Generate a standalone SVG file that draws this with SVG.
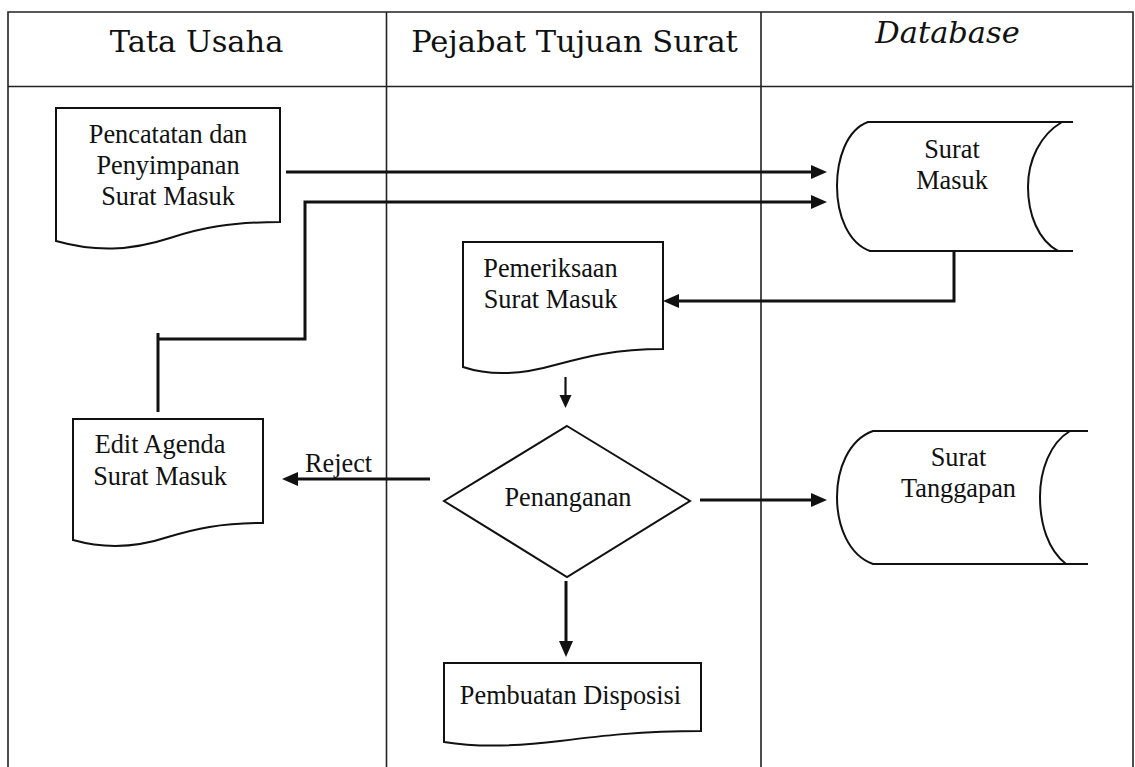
<svg xmlns="http://www.w3.org/2000/svg" width="1135" height="767" viewBox="0 0 1135 767">
<style>
.frame{fill:none;stroke:#222;stroke-width:1.6}
.shape{fill:none;stroke:#111;stroke-width:2}
.conn{fill:none;stroke:#111;stroke-width:3}
.thin{fill:none;stroke:#111;stroke-width:2.2}
.hdr{font-family:"DejaVu Serif",serif;font-size:30.5px;fill:#111;text-anchor:middle}
.txt{font-family:"Liberation Serif","Times New Roman",serif;font-size:26.3px;fill:#111;text-anchor:middle}
</style>
<defs>
<marker id="arr" markerUnits="userSpaceOnUse" markerWidth="16" markerHeight="14" refX="6" refY="7" orient="auto" overflow="visible">
<path d="M0,0 L16,7 L0,14 z" fill="#111"/>
</marker>
<marker id="arrS" markerUnits="userSpaceOnUse" markerWidth="13" markerHeight="12" refX="5" refY="6" orient="auto" overflow="visible">
<path d="M0,0 L13,6 L0,12 z" fill="#111"/>
</marker>
</defs>
<rect width="1135" height="767" fill="#fff"/>
<g id="swimlanes">
<path class="frame" d="M8,767 V12 H1133 V767 M8,86.5 H1133 M386.5,12 V767 M761,12 V767"/>
<text class="hdr" x="196.5" y="52">Tata Usaha</text>
<text class="hdr" x="574.5" y="52">Pejabat Tujuan Surat</text>
<text class="hdr" x="947.5" y="43" font-style="italic">Database</text>
</g>
<g id="connectors">
<path class="conn" d="M286,172 H817" marker-end="url(#arr)"/>
<path class="conn" d="M158,333 V412 M158,339 H305 V202 H817" marker-end="url(#arr)"/>
<path class="conn" d="M954,251 V301 H673" marker-end="url(#arr)"/>
<path class="thin" d="M565.5,377 V400" marker-end="url(#arrS)"/>
<path class="conn" d="M430,479 H292" marker-end="url(#arr)"/>
<text class="txt" x="305" y="472" text-anchor="start" style="text-anchor:start">Reject</text>
<path class="conn" d="M700,500 H817" marker-end="url(#arr)"/>
<path class="conn" d="M566,581 V647" marker-end="url(#arr)"/>
</g>
<g id="pencatatan">
<path class="shape" d="M56,108 H280 V222 C230,222 200,228 170,238 C130,251 95,252 56,241 Z"/>
<text class="txt" x="168" y="143">Pencatatan dan</text>
<text class="txt" x="168" y="174">Penyimpanan</text>
<text class="txt" x="168" y="205">Surat Masuk</text>
</g>
<g id="surat-masuk">
<path class="shape" d="M1073,122 H868 C846,130 837,160 837,186 C837,215 848,243 870,251 H1073"/>
<path class="shape" d="M1062,122 C1040,135 1028,160 1028,187 C1028,214 1038,240 1058,251"/>
<text class="txt" x="952" y="158">Surat</text>
<text class="txt" x="952" y="189">Masuk</text>
</g>
<g id="pemeriksaan">
<path class="shape" d="M463,242 H663 V349 C615,349 585,357 555,365 C520,375 490,376 463,367 Z"/>
<text class="txt" x="550.5" y="277">Pemeriksaan</text>
<text class="txt" x="550.5" y="308">Surat Masuk</text>
</g>
<g id="edit-agenda">
<path class="shape" d="M73,419 H263 V523 C220,523 195,529 168,537 C135,548 105,549 73,540 Z"/>
<text class="txt" x="160" y="453">Edit Agenda</text>
<text class="txt" x="160" y="485">Surat Masuk</text>
</g>
<g id="penanganan">
<polygon class="shape" points="567,426 690,501 567,577 444,501"/>
<text class="txt" x="568" y="506">Penanganan</text>
</g>
<g id="surat-tanggapan">
<path class="shape" d="M1088,431 H873 C848,440 837,470 837,497 C837,525 848,555 873,564 H1088"/>
<path class="shape" d="M1070,431 C1050,443 1040,470 1040,497 C1040,524 1048,550 1066,564"/>
<text class="txt" x="958.5" y="466">Surat</text>
<text class="txt" x="958.5" y="497">Tanggapan</text>
</g>
<g id="pembuatan">
<path class="shape" d="M444,663 H701 V731 C640,731 600,736 560,741 C520,746 480,748 444,742 Z"/>
<text class="txt" x="570.5" y="704">Pembuatan Disposisi</text>
</g>
</svg>
